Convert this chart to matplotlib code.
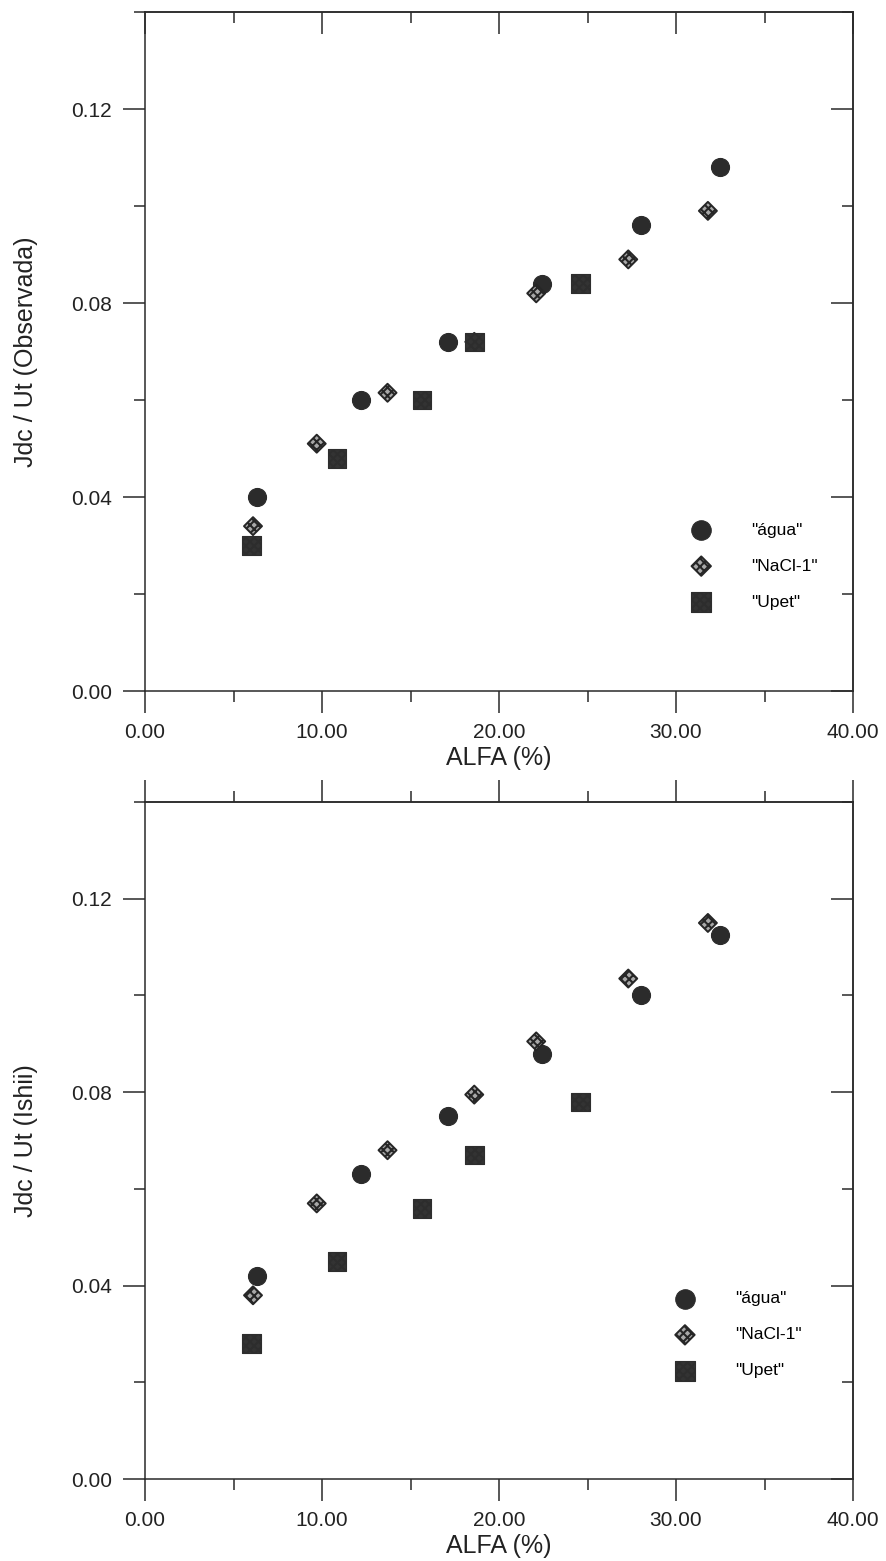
import matplotlib
matplotlib.use("Agg")
import matplotlib.pyplot as plt
from matplotlib.ticker import MultipleLocator, FormatStrFormatter

plt.rcParams["font.family"] = ["Liberation Sans", "DejaVu Sans"]
plt.rcParams["hatch.linewidth"] = 1.5

# values (x = ALFA %, y = Jdc / Ut)
agua_x = [6.3, 12.2, 17.1, 22.4, 28.0, 32.5]
agua_obs = [0.040, 0.060, 0.072, 0.084, 0.096, 0.108]
agua_ishii = [0.042, 0.063, 0.075, 0.088, 0.100, 0.1125]

nacl_x = [6.1, 9.7, 13.7, 18.6, 22.1, 27.3, 31.8]
nacl_obs = [0.034, 0.051, 0.0615, 0.072, 0.082, 0.089, 0.099]
nacl_ishii = [0.038, 0.057, 0.068, 0.0795, 0.0905, 0.1035, 0.115]

upet_x = [6.0, 10.85, 15.65, 18.6, 24.6]
upet_obs = [0.030, 0.048, 0.060, 0.072, 0.084]
upet_ishii = [0.028, 0.045, 0.056, 0.067, 0.078]

labels = ['"água"', '"NaCl-1"', '"Upet"']
ylabels = ["Jdc / Ut (Observada)", "Jdc / Ut (Ishii)"]

INK = "#2a2a2a"
MAJ, MIN = 15.8, 8.0


def style_axis(ax, top_dir):
    ax.set_xlim(0, 40)
    ax.set_ylim(0, 0.14)
    ax.xaxis.set_major_locator(MultipleLocator(10))
    ax.xaxis.set_minor_locator(MultipleLocator(5))
    ax.yaxis.set_major_locator(MultipleLocator(0.04))
    ax.yaxis.set_minor_locator(MultipleLocator(0.02))
    ax.xaxis.set_major_formatter(FormatStrFormatter("%.2f"))
    ax.yaxis.set_major_formatter(FormatStrFormatter("%.2f"))
    for s in ax.spines.values():
        s.set_color(INK)
        s.set_linewidth(1.1)
    ax.tick_params(which="both", direction="out", color=INK, width=1.1,
                   labelcolor="#222222", labelsize=15)
    ax.tick_params(which="major", length=MAJ)
    ax.tick_params(which="minor", length=MIN)
    ax.tick_params(axis="x", pad=7)
    ax.tick_params(axis="y", pad=8)

    # top and right ticks through secondary axes (own directions)
    top = ax.secondary_xaxis("top")
    right = ax.secondary_yaxis("right")
    for sec, d in ((top, top_dir), (right, "in")):
        sec.tick_params(which="both", direction=d, color=INK, width=1.1,
                        labelleft=False, labelright=False,
                        labeltop=False, labelbottom=False)
        sec.tick_params(which="major", length=MAJ)
        sec.tick_params(which="minor", length=MIN)
        for s in sec.spines.values():
            s.set_color(INK)
            s.set_linewidth(1.1)
    top.xaxis.set_major_locator(MultipleLocator(10))
    top.xaxis.set_minor_locator(MultipleLocator(5))
    right.yaxis.set_major_locator(MultipleLocator(0.04))
    right.yaxis.set_minor_locator(MultipleLocator(0.02))


fig = plt.figure(figsize=(8.86, 15.61), dpi=100)
ax1 = fig.add_axes([0.1637, 0.5573, 0.7991, 0.4350])
ax2 = fig.add_axes([0.1637, 0.0525, 0.7991, 0.4337])

panels = [
    (ax1, agua_obs, nacl_obs, upet_obs, "in", (0.739, 0.184)),
    (ax2, agua_ishii, nacl_ishii, upet_ishii, "out", (0.716, 0.213)),
]

for i, (ax, ya, yn, yu, tdir, lpos) in enumerate(panels):
    style_axis(ax, tdir)
    plt.rcParams["hatch.color"] = INK
    ax.scatter(agua_x, ya, s=169, marker="o", facecolor="#2b2b2b",
               edgecolor="#2b2b2b", linewidth=0.8, label=labels[0], zorder=3)
    ax.scatter(nacl_x, yn, s=84, marker="D", facecolor="#a8a8a8",
               edgecolor="#262626", linewidth=1.4, hatch="xxxx",
               label=labels[1], zorder=3)
    plt.rcParams["hatch.color"] = "#4d4d4d"
    ax.scatter(upet_x, yu, s=180, marker="s", facecolor="#333333",
               edgecolor="#2d2d2d", linewidth=0.8, hatch="xxxx",
               label=labels[2], zorder=3)
    ax.set_xlabel("ALFA (%)", fontsize=18, color="#222222", labelpad=3)
    ax.set_ylabel(ylabels[i], fontsize=18, color="#222222", labelpad=24)
    ax.legend(loc="center left", bbox_to_anchor=lpos, frameon=False,
              fontsize=12.5, markerscale=1.08, handlelength=2.0,
              handletextpad=1.9, labelspacing=1.2, scatterpoints=1)

fig.savefig("out.png", dpi=100, facecolor="white")
